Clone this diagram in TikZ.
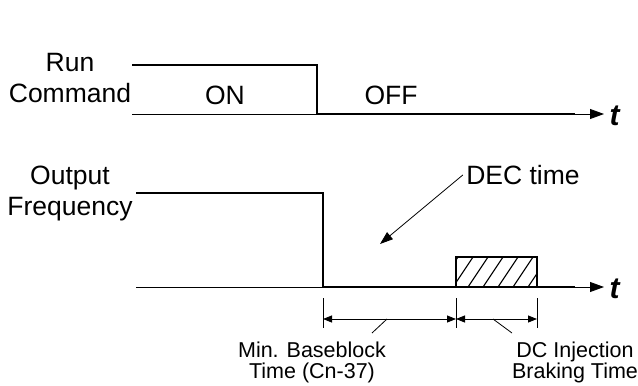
\documentclass[tikz,border=0pt]{standalone}
\usepackage{fontspec}
\setmainfont{Liberation Sans}
\usetikzlibrary{arrows.meta}

\begin{document}
\begin{tikzpicture}[
  x=1pt,y=-1pt,
  sig/.style={line width=2.6pt,line join=miter},
  rule/.style={line width=.8pt},
  axis/.style={rule,-{Triangle[length=14pt,width=10pt]}},
  dim/.style={rule,{Triangle[length=9pt,width=7pt]}-{Triangle[length=9pt,width=7pt]}},
  big/.style={font=\fontsize{26.5}{31}\selectfont,align=center},
  small/.style={font=\fontsize{21.5}{21}\selectfont,align=center}
]
  \useasboundingbox (0,0) rectangle (638,386);
  % run command
  \coordinate (runA) at (132,65);
  \coordinate (runB) at (317,65);
  \coordinate (runC) at (317,114);
  \coordinate (runD) at (575,114);
  \coordinate (runO) at (132,114);
  \coordinate (runT) at (604,114);
  \draw[axis] (runO) -- (runT);
  \draw[sig] (runA) -- (runB) -- (runC) -- (runD);
  \node[big] (run) at (70,78) {Run\\Command};
  \node[big] (on) at (225,95) {ON};
  \node[big] (off) at (391,95) {OFF};
  \node[big,anchor=west,font=\fontsize{30}{30}\selectfont] (tRun) at (606,116) {\bfseries\itshape t};
  % output frequency
  \coordinate (frqA) at (136,193);
  \coordinate (frqB) at (323,193);
  \coordinate (frqC) at (323,287);
  \coordinate (frqD) at (575,287);
  \coordinate (frqO) at (136,287);
  \coordinate (frqT) at (604,287);
  \draw[axis] (frqO) -- (frqT);
  \draw[sig] (frqA) -- (frqB) -- (frqC) -- (frqD);
  \node[big] (frq) at (70,193) {Output\\Frequency};
  \node[big,anchor=west,font=\fontsize{30}{30}\selectfont] (tFrq) at (606,289) {\bfseries\itshape t};
  \node[big] (dec) at (523,175) {DEC time};
  \coordinate (decTip) at (380,244);
  \draw[rule,-{Triangle[length=13pt,width=9pt]}] (dec.west) -- (decTip);
  % dc braking block
  \coordinate (dcA) at (456,257);
  \coordinate (dcB) at (537,287);
  \begin{scope}
    \clip (dcA) rectangle (dcB);
    \foreach \i in {-18,-3,...,90}
      \draw[line width=1.1pt] (456+\i,287) -- ++(20,-30);
  \end{scope}
  \draw[line width=1.6pt] (dcA) rectangle (dcB);
  % timing
  \foreach \n/\x in {m/323,d/456,e/537} {
    \coordinate (\n0) at (\x,298);
    \coordinate (\n1) at (\x,328);
    \coordinate (\n2) at (\x,319);
    \draw[rule] (\n0) -- (\n1);
  }
  \draw[dim] (m2) -- (d2);
  \draw[dim] (d2) -- (e2);
  \node[small] (bb) at (312,362) {Min. Baseblock\\Time (Cn-37)};
  \node[small] (dcb) at (575,362) {DC Injection\\Braking Time};
  \coordinate (bbA) at (387,319);
  \coordinate (bbB) at (372,333);
  \coordinate (dcbA) at (493,319);
  \coordinate (dcbB) at (512,333);
  \draw[rule] (bbA) -- (bbB);
  \draw[rule] (dcbA) -- (dcbB);
\end{tikzpicture}
\end{document}
